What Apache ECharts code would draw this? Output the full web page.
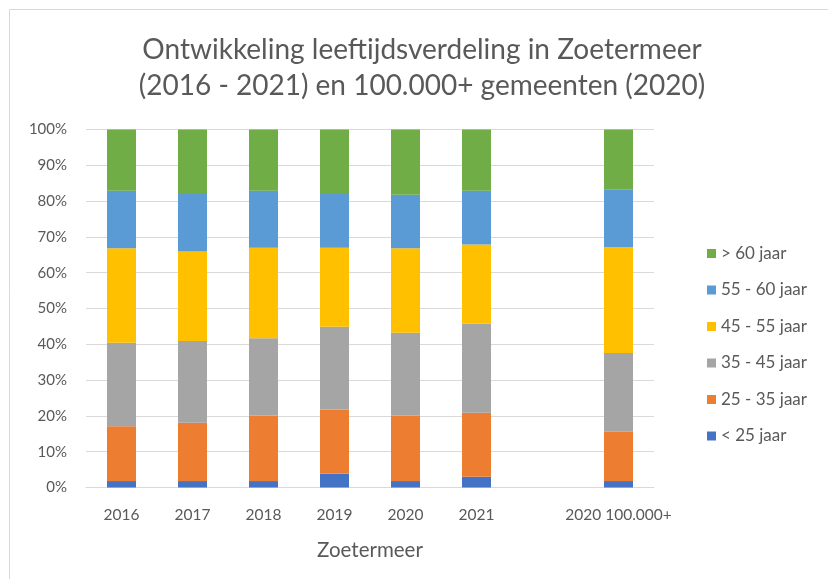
<!DOCTYPE html>
<html>
<head>
<meta charset="utf-8">
<script src="https://cdn.jsdelivr.net/npm/echarts@6/dist/echarts.min.js"></script>
<style>
  html, body { margin: 0; padding: 0; background: #fff; }
  #chart { width: 828px; height: 579px; }
</style>
</head>
<body>
<div id="chart"></div>
<script>
// Categories: six Zoetermeer years, a spacer, then the 100.000+ municipalities (2020)
const categories = ['2016', '2017', '2018', '2019', '2020', '2021', '', '2020 100.000+'];

// Share per age group (%), '-' for the spacer column
const under25  = [1.8, 1.8, 1.8, 3.9, 1.8, 3.0, '-', 1.8];
const age25_35 = [15.3, 16.3, 18.3, 17.9, 18.3, 17.9, '-', 13.8];
const age35_45 = [23.3, 22.8, 21.6, 23.1, 23.1, 24.9, '-', 22.0];
const age45_55 = [26.4, 25.0, 25.3, 22.1, 23.6, 22.1, '-', 29.6];
const age55_60 = [16.1, 16.1, 15.9, 15.0, 15.0, 15.0, '-', 16.0];
const over60   = [17.1, 18.0, 17.1, 18.0, 18.2, 17.1, '-', 16.8];

const yTicks = [0, 10, 20, 30, 40, 50, 60, 70, 80, 90, 100];

const seriesDefs = [
  { name: '< 25 jaar',   data: under25,  color: '#4472c4' },
  { name: '25 - 35 jaar', data: age25_35, color: '#ed7d31' },
  { name: '35 - 45 jaar', data: age35_45, color: '#a5a5a5' },
  { name: '45 - 55 jaar', data: age45_55, color: '#ffc000' },
  { name: '55 - 60 jaar', data: age55_60, color: '#5b9bd5' },
  { name: '> 60 jaar',   data: over60,   color: '#70ad47' }
];

const FONT = 'Lato, "Open Sans", sans-serif';
const TEXT = '#595959';

const chart = echarts.init(document.getElementById('chart'));
chart.setOption({
  animation: false,
  textStyle: { fontFamily: FONT },
  graphic: [
    {
      type: 'rect',
      shape: { x: 9.5, y: 9.5, width: 840, height: 600 },
      style: { fill: 'none', stroke: '#d9d9d9', lineWidth: 1 },
      silent: true
    },
    {
      type: 'text',
      x: 422, y: 50,
      style: {
        text: 'Ontwikkeling leeftijdsverdeling in Zoetermeer',
        font: '28px ' + FONT, fill: TEXT, align: 'center', verticalAlign: 'middle'
      }
    },
    {
      type: 'text',
      x: 422, y: 86,
      style: {
        text: '(2016 - 2021) en 100.000+ gemeenten (2020)',
        font: '28px ' + FONT, fill: TEXT, align: 'center', verticalAlign: 'middle'
      }
    }
  ],
  grid: { left: 86, width: 568, top: 129.5, height: 358, containLabel: false },
  legend: {
    orient: 'vertical',
    left: 702,
    top: 240,
    itemWidth: 9,
    itemHeight: 9,
    itemGap: 19.5,
    icon: 'rect',
    data: seriesDefs.map(s => s.name).reverse(),
    textStyle: { color: TEXT, fontSize: 17, fontFamily: FONT }
  },
  xAxis: {
    type: 'category',
    data: categories,
    axisLine: { show: true, lineStyle: { color: '#d9d9d9' } },
    axisTick: { show: false },
    axisLabel: { color: TEXT, fontSize: 15.5, margin: 19, fontFamily: FONT, interval: 0 },
    name: 'Zoetermeer',
    nameLocation: 'middle',
    nameGap: 52,
    nameTextStyle: { color: TEXT, fontSize: 20.5, fontFamily: FONT }
  },
  yAxis: {
    type: 'value',
    min: 0,
    max: 100,
    interval: 10,
    axisLine: { show: false },
    axisTick: { show: false },
    splitLine: { lineStyle: { color: '#d9d9d9', width: 1 } },
    axisLabel: {
      color: TEXT, fontSize: 15, margin: 19, fontFamily: FONT,
      formatter: v => (yTicks.includes(v) ? v + '%' : '')
    }
  },
  series: seriesDefs.map(s => ({
    name: s.name,
    type: 'bar',
    stack: 'total',
    barWidth: 29,
    data: s.data,
    itemStyle: { color: s.color }
  }))
});
</script>
</body>
</html>
